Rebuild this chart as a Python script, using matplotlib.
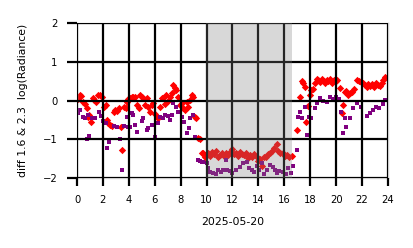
import matplotlib
matplotlib.use("Agg")
import matplotlib.pyplot as plt

# Red diamonds: hour of day, value
red_t = [0.05, 0.2, 0.3, 0.47, 0.6, 0.75, 0.85, 0.95, 1.05, 1.2, 1.35, 1.5, 1.65, 1.77, 1.92,
         2.05, 2.2, 2.29, 2.4, 2.55, 2.7, 2.86, 2.95, 3.1, 3.25, 3.37, 3.48, 3.63, 3.75, 3.85,
         3.97, 4.1, 4.25, 4.35, 4.47, 4.62, 4.75, 4.9, 5.0, 5.12, 5.25, 5.37, 5.48, 5.6,
         5.76, 5.87, 6.0, 6.14, 6.27, 6.4, 6.53, 6.65, 6.8, 6.9, 7.05, 7.18, 7.3, 7.43, 7.56,
         7.64, 7.8, 7.95, 8.07, 8.2, 8.33, 8.46, 8.57, 8.72, 8.85, 8.95, 9.1, 9.22, 9.35, 9.5,
         9.62, 9.73, 9.85, 10.0, 10.15, 10.3, 10.45, 10.6, 10.75, 10.9, 11.05, 11.2, 11.35,
         11.5, 11.65, 11.8, 12.0, 12.15, 12.3, 12.45, 12.6, 12.75, 12.9, 13.05, 13.2, 13.35,
         13.5, 13.65, 13.86, 14.0, 14.12, 14.25, 14.4, 14.6, 14.75, 14.9, 15.05, 15.2, 15.4,
         15.55, 15.7, 15.9, 16.05, 16.2, 16.35, 16.56, 16.95, 17.2, 17.33, 17.45, 17.6, 17.7,
         17.85, 17.97, 18.1, 18.2, 18.35, 18.5, 18.6, 18.75, 18.9, 19.05, 19.15, 19.27, 19.4,
         19.55, 19.7, 19.85, 20.0, 20.1, 20.3, 20.45, 20.55, 20.7, 20.8, 20.95, 21.05, 21.2,
         21.4, 21.6, 21.75, 21.95, 22.1, 22.25, 22.35, 22.5, 22.65, 22.8, 22.95, 23.1, 23.25,
         23.4, 23.55, 23.65, 23.77]
red_v = [0.05, 0.14, 0.12, -0.03, -0.08, -0.2, -0.42, -0.38, -0.55, 0.06, 0.02, -0.03, 0.14, 0.14, 0.08,
         -0.16, -0.12, -0.5, -0.58, -0.63, -0.66, -0.3, -0.25, -0.27, -0.2, -0.68, -1.27, -0.16, -0.2, -0.03,
         0.05, 0.06, 0.1, 0.08, 0.1, -0.12, -0.2, 0.14, 0.1, 0.07, -0.12, 0.06, -0.16, -0.29,
         -0.12, -0.06, -0.35, -0.42, -0.45, -0.16, 0.07, 0.06, -0.08, 0.14, 0.0, 0.1, 0.19, 0.4, 0.32,
         0.27, 0.1, -0.12, -0.07, -0.2, -0.25, -0.03, -0.16, 0.01, 0.14, 0.1, -0.42, -0.45, -0.97, -1.0,
         -1.35, -1.36, -1.45, -1.4, -1.35, -1.42, -1.32, -1.38, -1.3, -1.45, -1.4, -1.36, -1.42,
         -1.35, -1.4, -1.32, -1.25, -1.38, -1.35, -1.42, -1.33, -1.38, -1.4, -1.35, -1.48, -1.4,
         -1.45, -1.38, -1.45, -1.55, -1.5, -1.7, -1.45, -1.45, -1.38, -1.36, -1.3, -1.22, -1.12,
         -1.3, -1.35, -1.36, -1.42, -1.4, -1.45, -1.42, -0.76, 0.09, 0.51, 0.45, 0.35, -0.55,
         -0.15, 0.14, 0.27, 0.3, 0.45, 0.55, 0.53, 0.48, 0.55, 0.5, 0.45, 0.53, 0.5,
         0.55, 0.45, 0.52, 0.5, 0.53, 0.32, -0.33, -0.12, 0.23, 0.25, 0.15, 0.19, 0.23,
         0.3, 0.53, 0.5, 0.48, 0.45, 0.4, 0.36, 0.42, 0.38, 0.42, 0.35, 0.45, 0.4,
         0.38, 0.45, 0.52, 0.6]

# Purple squares: hour of day, value
pur_t = [0.05, 0.23, 0.47, 0.62, 0.77, 0.85, 0.93, 1.13, 1.39, 1.7, 1.85, 2.0, 2.24, 2.3, 2.47,
         2.85, 3.06, 3.3, 3.45, 3.6, 3.86, 3.93, 4.1, 4.23, 4.3, 4.47, 4.62, 5.0, 5.1, 5.37,
         5.5, 5.76, 6.0, 6.27, 6.4, 6.6, 6.8, 7.0, 7.18, 7.3, 7.43, 7.64, 7.77, 8.07, 8.26,
         8.46, 8.64, 8.72, 8.95, 9.1, 9.35, 9.5, 9.62, 9.7, 10.0, 10.1, 10.26, 10.5, 10.7, 10.9,
         11.1, 11.3, 11.5, 11.55, 11.8, 12.0, 12.3, 12.6, 12.8, 13.1, 13.3, 13.48, 13.7, 13.9,
         14.05, 14.25, 14.45, 14.7, 14.9, 15.1, 15.25, 15.4, 15.6, 15.9, 16.1, 16.3, 16.5,
         16.67, 16.95, 17.06, 17.2, 17.35, 17.6, 17.75, 17.9, 18.1, 18.36, 18.5, 18.75, 19.0,
         19.27, 19.5, 19.75, 20.0, 20.2, 20.4, 20.5, 20.7, 20.76, 21.06, 21.3, 21.6, 21.95,
         22.35, 22.6, 22.85, 23.1, 23.35, 23.6, 23.77]
pur_v = [-0.33, -0.25, -0.42, -0.45, -1.0, -0.38, -0.92, -0.46, -0.46, -0.29, -0.4, -0.53, -0.59, -1.23, -1.08,
         -0.65, -0.68, -0.98, -1.79, -0.66, -0.42, -0.67, -0.68, -0.33, -0.37, -0.63, -0.8, -0.52, -0.46, -0.76,
         -0.7, -0.63, -0.93, -0.58, -0.42, -0.45, -0.37, -0.4, -0.5, -0.37, -0.07, -0.16, -0.29, -0.42, -0.55,
         -0.84, -0.71, -0.45, -0.37, -0.93, -1.54, -1.56, -1.58, -1.59, -1.6, -1.75, -1.84, -1.87, -1.9, -1.8,
         -1.85, -1.78, -1.53, -1.79, -1.82, -1.88, -1.79, -1.71, -1.61, -1.58, -1.75, -1.79, -1.85, -1.7,
         -1.78, -1.61, -1.9, -1.8, -1.66, -1.72, -1.8, -1.87, -1.82, -1.84, -1.9, -1.75, -1.88,
         -1.68, -1.28, -0.43, -0.3, -0.45, -0.17, -0.89, -0.43, -0.45, -0.2, -0.07, 0.06, 0.0,
         -0.03, 0.09, 0.05, 0.1, 0.05, -0.29, -0.83, -0.45, -0.67, -0.45, -0.2, -0.07, -0.16,
         -0.4, -0.31, -0.24, -0.16, -0.2, -0.09, 0.01]

x_ticks = list(range(0, 25, 2))
y_ticks = [-2, -1, 0, 1, 2]
shade_span = (9.95, 16.57)

fig = plt.figure(figsize=(4.14, 2.48), dpi=100)
ax = fig.add_axes([0.186, 0.282, 0.751, 0.625])

ax.scatter(red_t, red_v, marker='D', s=14, color='red', linewidths=0, zorder=2)
ax.scatter(pur_t, pur_v, marker='s', s=7, color='purple', linewidths=0, zorder=2.1)
ax.axvspan(shade_span[0], shade_span[1], color='gray', alpha=0.3, linewidth=0, zorder=3)

ax.set_xlim(0, 24)
ax.set_ylim(-2, 2)
ax.set_xticks(x_ticks)
ax.set_yticks(y_ticks)
ax.grid(True, color='black', linewidth=1.6, zorder=4)
ax.set_axisbelow(False)
for s in ax.spines.values():
    s.set_color('#cccccc')
    s.set_linewidth(1.0)
ax.tick_params(axis='x', length=5.5, width=1.6, color='black', labelsize=7.2, pad=7)
ax.tick_params(axis='y', length=7, width=1.6, color='black', labelsize=7.2, pad=7)
ax.set_xlabel('2025-05-20', fontsize=7.8, labelpad=8)
ax.set_ylabel('diff 1.6 & 2.3  log(Radiance)', fontsize=7.8, labelpad=11)

fig.savefig('out.png', dpi=100)
